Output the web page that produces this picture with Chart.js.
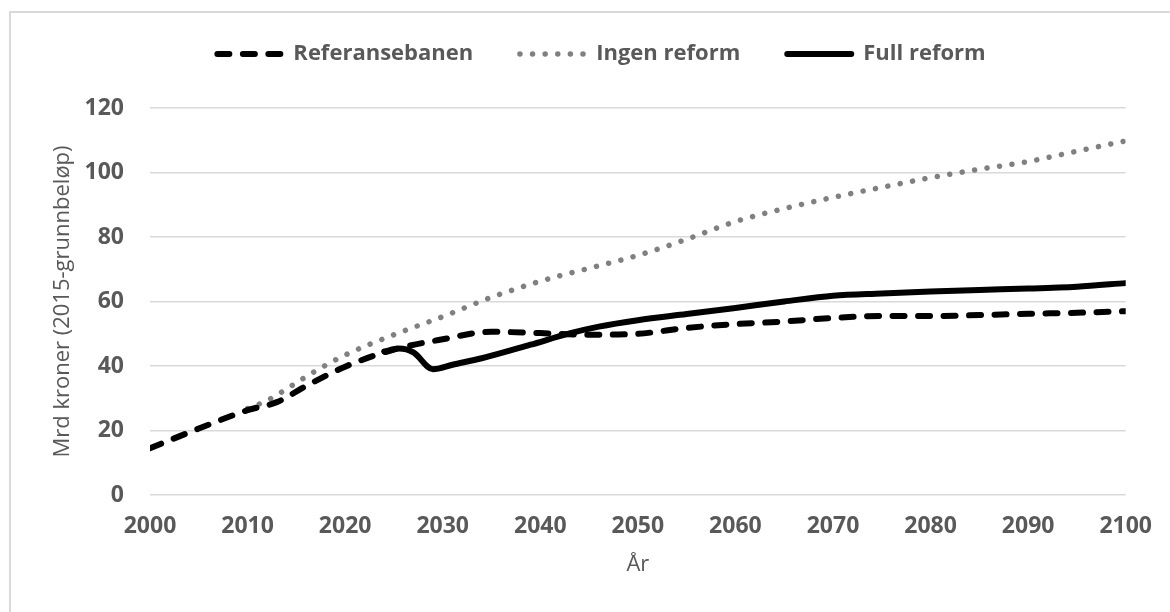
<!DOCTYPE html>
<html>
<head>
<meta charset="utf-8">
<script src="https://cdn.jsdelivr.net/npm/chart.js@4/dist/chart.umd.min.js"></script>
<style>
	html, body { margin: 0; padding: 0; background: #fff; }
	#chart { display: block; }
</style>
</head>
<body>
<canvas id="chart" width="1170" height="612"></canvas>
<script>
// Pensjonsutgifter, mrd kroner (2015-grunnbeløp)
const refYears = [2000, 2005, 2010, 2013, 2016, 2020, 2025, 2030, 2035, 2040, 2045, 2050, 2055, 2060, 2065, 2070, 2075, 2080, 2085, 2090, 2095, 2100];
const refValues = [14.5, 20.6, 26.3, 28.8, 33.8, 39.8, 45.1, 48.3, 50.6, 50.2, 49.7, 50.0, 51.8, 53.0, 53.8, 54.9, 55.5, 55.5, 55.8, 56.2, 56.5, 57.0];

const ingenYears = [2010, 2012, 2015, 2017, 2020, 2025, 2030, 2035, 2040, 2045, 2050, 2055, 2060, 2065, 2070, 2075, 2080, 2085, 2090, 2095, 2100];
const ingenValues = [26.8, 29.3, 34.8, 38.5, 43.4, 49.7, 55.3, 61.3, 66.3, 70.3, 74.3, 79.3, 84.8, 88.8, 92.3, 95.4, 98.4, 101.0, 103.4, 106.6, 109.8];

const fullYears = [2024, 2025.5, 2027, 2029, 2031, 2034, 2039, 2043, 2046, 2050, 2055, 2060, 2065, 2070, 2075, 2080, 2085, 2090, 2095, 2100];
const fullValues = [44.5, 45.4, 44.2, 39.0, 40.4, 42.4, 46.6, 50.1, 52.2, 54.2, 56.1, 58.0, 60.0, 61.8, 62.5, 63.1, 63.6, 64.0, 64.6, 65.7];

const seriesNames = ['Referansebanen', 'Ingen reform', 'Full reform'];
const yAxisTitle = 'Mrd kroner (2015-grunnbeløp)';
const xAxisTitle = 'År';

const textColor = '#595959';
const fontFamily = '"Open Sans", sans-serif';

const points = (xs, ys) => xs.map((x, i) => ({x, y: ys[i]}));

// outer frame around the whole figure
const framePlugin = {
	id: 'frame',
	beforeDraw: chart => {
		const ctx = chart.ctx;
		ctx.save();
		ctx.strokeStyle = '#d9d9d9';
		ctx.lineWidth = 2;
		ctx.strokeRect(10, 12, 1300, 800);
		ctx.restore();
	}
};

// legend row: line sample + label, centred above the plot
const legendPlugin = {
	id: 'lineLegend',
	afterDraw: chart => {
		const ctx = chart.ctx;
		const sample = 70, gap = 9, spacing = 44, y = 54, centre = 600;
		ctx.save();
		ctx.font = `bold 22px ${fontFamily}`;
		ctx.textBaseline = 'middle';
		const items = chart.data.datasets.map(ds => ({ds, w: ctx.measureText(ds.label).width}));
		const total = items.reduce((s, it) => s + sample + gap + it.w, 0) + spacing * (items.length - 1);
		let x = centre - total / 2;
		items.forEach(({ds, w}) => {
			const cap = ds.borderWidth / 2;
			ctx.beginPath();
			ctx.strokeStyle = ds.borderColor;
			ctx.lineWidth = ds.borderWidth;
			ctx.lineCap = 'round';
			ctx.setLineDash(ds.borderDash || []);
			ctx.moveTo(x + cap, y);
			ctx.lineTo(x + sample - cap, y);
			ctx.stroke();
			ctx.setLineDash([]);
			ctx.fillStyle = textColor;
			ctx.fillText(ds.label, x + sample + gap, y);
			x += sample + gap + w + spacing;
		});
		ctx.restore();
	}
};

const data = {
	datasets: [{
		label: seriesNames[0],
		data: points(refYears, refValues),
		borderColor: '#000000',
		borderWidth: 6,
		borderDash: [12, 13.5],
		borderCapStyle: 'round',
		cubicInterpolationMode: 'monotone',
		pointRadius: 0,
		order: 2
	}, {
		label: seriesNames[1],
		data: points(ingenYears, ingenValues),
		borderColor: '#808080',
		borderWidth: 5.5,
		borderDash: [0.01, 12.6],
		borderCapStyle: 'round',
		cubicInterpolationMode: 'monotone',
		pointRadius: 0,
		order: 3
	}, {
		label: seriesNames[2],
		data: points(fullYears, fullValues),
		borderColor: '#000000',
		borderWidth: 6,
		borderCapStyle: 'round',
		cubicInterpolationMode: 'monotone',
		pointRadius: 0,
		order: 1
	}]
};

const config = {
	type: 'line',
	data,
	options: {
		responsive: false,
		animation: false,
		events: [],
		layout: {
			padding: {top: 108, right: 44, left: 0, bottom: 0}
		},
		plugins: {
			legend: {display: false},
			tooltip: {enabled: false}
		},
		scales: {
			x: {
				type: 'linear',
				min: 2000,
				max: 2100,
				afterFit: scale => { scale.height = 117; },
				grid: {display: false, drawTicks: false},
				border: {display: false},
				ticks: {
					stepSize: 10,
					padding: 18,
					color: textColor,
					font: {family: fontFamily, size: 23, weight: 'bold'},
					callback: v => String(v)
				},
				title: {
					display: true,
					text: xAxisTitle,
					color: textColor,
					font: {family: fontFamily, size: 22},
					padding: {top: 0, bottom: 34}
				}
			},
			y: {
				min: 0,
				max: 120,
				afterFit: scale => { scale.width = 150; },
				grid: {color: '#d9d9d9', lineWidth: 1.5, drawTicks: false},
				border: {display: false},
				ticks: {
					stepSize: 20,
					padding: 26,
					color: textColor,
					font: {family: fontFamily, size: 23, weight: 'bold'}
				},
				title: {
					display: true,
					text: yAxisTitle,
					color: textColor,
					font: {family: fontFamily, size: 22},
					padding: {top: 50, bottom: 0}
				}
			}
		}
	},
	plugins: [framePlugin, legendPlugin]
};

new Chart(document.getElementById('chart'), config);
</script>
</body>
</html>
